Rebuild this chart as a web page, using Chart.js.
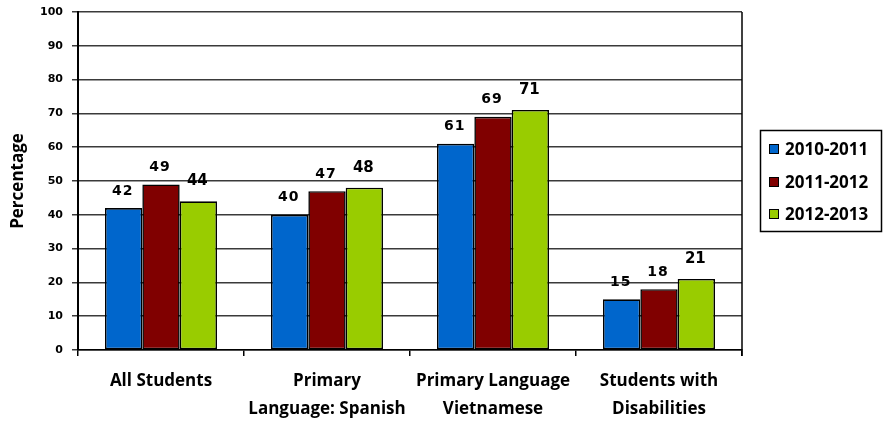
<!DOCTYPE html>
<html>
<head>
<meta charset="utf-8">
<script src="https://cdn.jsdelivr.net/npm/chart.js@4.4.1/dist/chart.umd.min.js"></script>
<style>
  html, body { margin: 0; padding: 0; background: #fff; }
  #wrap { width: 884px; height: 421px; }
</style>
</head>
<body>
<div id="wrap"><canvas id="chart" width="884" height="421"></canvas></div>
<script>
const categories = [
  'All Students',
  ['Primary', 'Language: Spanish'],
  ['Primary Language', 'Vietnamese'],
  ['Students with', 'Disabilities']
];
const seriesNames = ['2010-2011', '2011-2012', '2012-2013'];
const values2010 = [42, 40, 61, 15];
const values2011 = [49, 47, 69, 18];
const values2012 = [44, 48, 71, 21];
const colors = ['#0066CC', '#800000', '#99CC00'];
const yTicks = [0, 10, 20, 30, 40, 50, 60, 70, 80, 90, 100];

const labelFont = '"Open Sans", Lato, sans-serif';
const numFont = '"DejaVu Sans", sans-serif';

// value labels above each bar
const barLabels = {
  id: 'barLabels',
  afterDatasetsDraw(chart) {
    const ctx = chart.ctx;
    chart.data.datasets.forEach((ds, i) => {
      const meta = chart.getDatasetMeta(i);
      const big = i === 2;
      ctx.save();
      ctx.font = 'bold ' + (big ? 15 : 14) + 'px ' + numFont;
      if ('letterSpacing' in ctx) ctx.letterSpacing = big ? '0px' : '1px';
      ctx.fillStyle = '#000';
      ctx.textAlign = 'center';
      ctx.textBaseline = 'middle';
      meta.data.forEach((bar, j) => {
        ctx.fillText(String(ds.data[j]), bar.x - 1, bar.y - (big ? 20 : 17));
      });
      ctx.restore();
    });
  }
};

// right frame line + boxed legend
const frameAndLegend = {
  id: 'frameAndLegend',
  afterDraw(chart) {
    const ctx = chart.ctx;
    const a = chart.chartArea;
    ctx.save();
    ctx.strokeStyle = '#000';
    ctx.lineWidth = 1.5;
    ctx.beginPath();
    ctx.moveTo(a.right, a.top);
    ctx.lineTo(a.right, a.bottom + 6);
    ctx.stroke();

    ctx.strokeRect(760.5, 130.5, 121, 101);
    const ys = [149, 182, 214];
    ctx.font = 'bold 17px ' + labelFont;
    ctx.textBaseline = 'middle';
    ctx.textAlign = 'left';
    chart.data.datasets.forEach((ds, i) => {
      ctx.fillStyle = ds.backgroundColor;
      ctx.fillRect(769, ys[i] - 5, 10, 10);
      ctx.lineWidth = 1;
      ctx.strokeStyle = '#000';
      ctx.strokeRect(769.5, ys[i] - 4.5, 9, 9);
      ctx.fillStyle = '#000';
      ctx.fillText(ds.label, 785, ys[i] + 1);
    });
    ctx.restore();
  }
};

const data = {
  labels: categories,
  datasets: [
    { label: seriesNames[0], data: values2010, backgroundColor: colors[0] },
    { label: seriesNames[1], data: values2011, backgroundColor: colors[1] },
    { label: seriesNames[2], data: values2012, backgroundColor: colors[2] }
  ].map(d => Object.assign(d, { borderColor: '#000', borderWidth: 1.6, borderSkipped: false }))
};

new Chart(document.getElementById('chart'), {
  type: 'bar',
  data: data,
  options: {
    responsive: false,
    animation: false,
    layout: { padding: { top: 12, right: 142, bottom: 0, left: 0 } },
    datasets: { bar: { categoryPercentage: 0.675, barPercentage: 1 } },
    plugins: {
      legend: { display: false },
      tooltip: { enabled: false }
    },
    scales: {
      x: {
        afterFit(scale) { scale.height = 71; },
        grid: { drawOnChartArea: false, color: '#000', tickLength: 6, offset: true, lineWidth: 1.5 },
        border: { color: '#000', width: 1.5 },
        ticks: {
          color: '#000',
          font: { family: labelFont, size: 17, weight: 'bold', lineHeight: 1.6 },
          padding: 12,
          maxRotation: 0,
          autoSkip: false
        }
      },
      y: {
        min: 0,
        max: 100,
        afterFit(scale) {
          scale.width = 78;
          scale.paddingTop = 4;
          scale.paddingBottom = 4;
        },
        afterBuildTicks(scale) { scale.ticks = yTicks.map(v => ({ value: v })); },
        grid: { color: '#3a3a3a', lineWidth: 1.5, tickLength: 6 },
        border: { color: '#000', width: 2 },
        ticks: {
          color: '#000',
          font: { family: numFont, size: 11, weight: 'bold' },
          padding: 9
        },
        title: {
          display: true,
          text: 'Percentage',
          color: '#000',
          font: { family: labelFont, size: 17, weight: 'bold' },
          padding: { top: 8, bottom: 0 }
        }
      }
    }
  },
  plugins: [barLabels, frameAndLegend]
});
</script>
</body>
</html>
